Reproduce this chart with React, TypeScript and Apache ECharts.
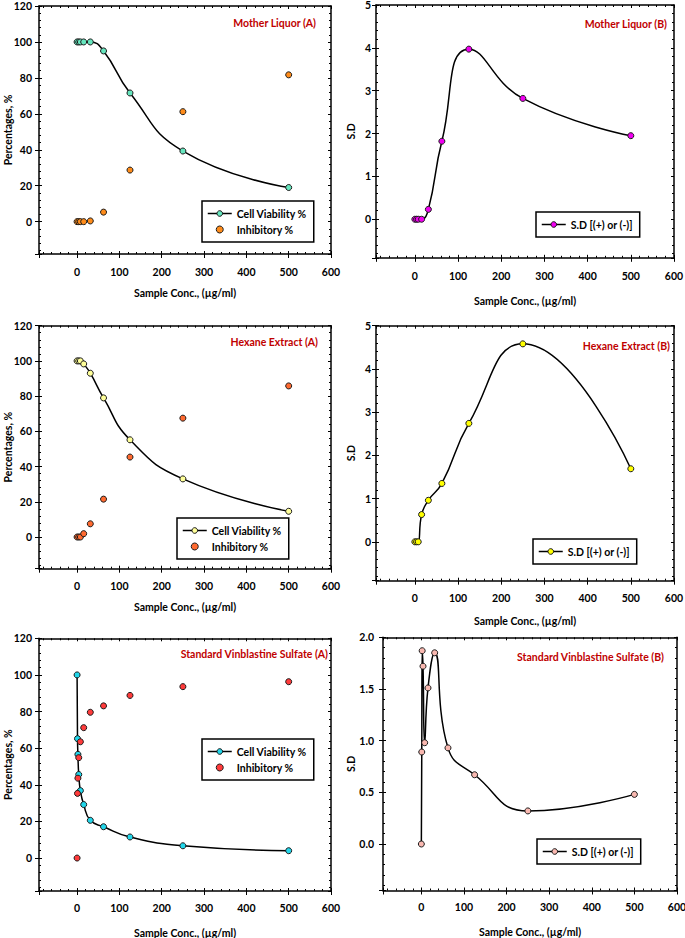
import React, { useEffect, useRef } from "react";
import * as echarts from "echarts";

// ---- Data (concentrations in µg/ml) ----
const mlConc = [0, 3.9, 7.8, 15.6, 31.25, 62.5, 125, 250, 500];
const mlViability = [100, 100, 100, 100, 100, 95, 71.6, 39.3, 19];
const mlInhibitory = [0, 0, 0, 0, 0.4, 5.3, 28.7, 61.2, 81.7];
const mlSD = [0, 0, 0, 0, 0.23, 1.82, 3.97, 2.82, 1.95];

const hxConc = [0, 3.9, 7.8, 15.6, 31.25, 62.5, 125, 250, 500];
const hxViability = [100, 100, 100, 98.3, 93, 79, 55.2, 33, 14.6];
const hxInhibitory = [0, 0, 0, 1.9, 7.5, 21.5, 45.4, 67.5, 85.8];
const hxSD = [0, 0, 0, 0.63, 0.96, 1.35, 2.74, 4.58, 1.69];

const vbConc = [0, 0.98, 1.95, 3.9, 7.8, 15.6, 31.25, 62.5, 125, 250, 500];
const vbViability = [100, 65.2, 56.6, 45.6, 36.8, 29.2, 20.6, 17.1, 11.5, 6.7, 4.0];
const vbInhibitory = [0, 35.3, 43.6, 54.8, 63.5, 71.2, 79.6, 83.1, 88.8, 93.6, 96.3];
const vbSD = [0, 0.89, 1.87, 1.72, 0.98, 1.51, 1.85, 0.93, 0.67, 0.32, 0.48];

// ---- Tick labels ----
const xTickLabels = [0, 100, 200, 300, 400, 500, 600];
const pctTickLabels = [0, 20, 40, 60, 80, 100, 120];
const sdTickLabels = [0, 1, 2, 3, 4, 5];
const sdVbTickLabels = [0, 0.5, 1, 1.5, 2];

const X_NAME = "Sample Conc., (µg/ml)";
const FONT = "Lato, 'Liberation Sans', sans-serif";
const FS = 10.5;
const TITLE_RED = "#c00000";
const EDGE = "#1a1a1a";

const pairs = (xs: number[], ys: number[]) => xs.map((x, i) => [x, ys[i]]);
const hasTick = (list: number[], v: number) => list.some((t) => Math.abs(t - v) < 1e-6);

export default function App() {
  const ref = useRef<HTMLDivElement>(null);

  useEffect(() => {
    if (!ref.current) return;
    const chart = echarts.init(ref.current, undefined, { renderer: "svg" });

    const panels = [
      {
        grid: { left: 39, top: 6, width: 292, height: 248 },
        yMin: -18, yMax: 120, yStep: 20, yTicks: pctTickLabels, yDec: 0,
        yName: "Percentages, %", yNameGap: 26, yLabelMargin: 7,
        xLabelMargin: 12, xNameGap: 33,
        title: "Mother Liquor (A)", titleX: 316, titleY: 23,
        legendLeft: 202, legendTop: 201,
        lines: [{ name: "Cell Viability %", xs: mlConc, ys: mlViability, fill: "#66e6be" }],
        dots: [{ name: "Inhibitory %", xs: mlConc, ys: mlInhibitory, fill: "#ff8c1a" }],
      },
      {
        grid: { left: 376, top: 5, width: 298, height: 252.8 },
        yMin: -0.9, yMax: 5, yStep: 1, yTicks: sdTickLabels, yDec: 0,
        yName: "S.D", yNameGap: 20, yLabelMargin: 5,
        xLabelMargin: 13, xNameGap: 38,
        title: "Mother Liquor (B)", titleX: 667, titleY: 24,
        legendLeft: 536, legendTop: 212,
        lines: [{ name: "S.D [(+) or (-)]", xs: mlConc, ys: mlSD, fill: "#f000f0" }],
        dots: [],
      },
      {
        grid: { left: 39, top: 325.7, width: 292, height: 243 },
        yMin: -18, yMax: 120, yStep: 20, yTicks: pctTickLabels, yDec: 0,
        yName: "Percentages, %", yNameGap: 26, yLabelMargin: 7,
        xLabelMargin: 12, xNameGap: 33,
        title: "Hexane Extract (A)", titleX: 318, titleY: 342,
        legendLeft: 177, legendTop: 518,
        lines: [{ name: "Cell Viability %", xs: hxConc, ys: hxViability, fill: "#ffff99" }],
        dots: [{ name: "Inhibitory %", xs: hxConc, ys: hxInhibitory, fill: "#ff6a30" }],
      },
      {
        grid: { left: 376, top: 325.7, width: 298, height: 255 },
        yMin: -0.9, yMax: 5, yStep: 1, yTicks: sdTickLabels, yDec: 0,
        yName: "S.D", yNameGap: 20, yLabelMargin: 5,
        xLabelMargin: 12, xNameGap: 35,
        title: "Hexane Extract (B)", titleX: 670, titleY: 346,
        legendLeft: 533, legendTop: 539,
        lines: [{ name: "S.D [(+) or (-)]", xs: hxConc, ys: hxSD, fill: "#ffff00" }],
        dots: [],
      },
      {
        grid: { left: 39, top: 638.3, width: 292, height: 252.7 },
        yMin: -18, yMax: 120, yStep: 20, yTicks: pctTickLabels, yDec: 0,
        yName: "Percentages, %", yNameGap: 26, yLabelMargin: 7,
        xLabelMargin: 11, xNameGap: 36,
        title: "Standard Vinblastine Sulfate (A)", titleX: 328, titleY: 654,
        legendLeft: 202, legendTop: 739,
        lines: [{ name: "Cell Viability %", xs: vbConc, ys: vbViability, fill: "#22d6ea" }],
        dots: [{ name: "Inhibitory %", xs: vbConc, ys: vbInhibitory, fill: "#ff3b3b" }],
      },
      {
        grid: { left: 383, top: 637.3, width: 294, height: 253.2 },
        yMin: -0.45, yMax: 2, yStep: 0.5, yTicks: sdVbTickLabels, yDec: 1,
        yName: "S.D", yNameGap: 27, yLabelMargin: 9,
        xLabelMargin: 11, xNameGap: 36,
        title: "Standard Vinblastine Sulfate (B)", titleX: 664, titleY: 657,
        legendLeft: 537, legendTop: 839,
        lines: [{ name: "S.D [(+) or (-)]", xs: vbConc, ys: vbSD, fill: "#f9b8b0" }],
        dots: [],
      },
    ];

    const labelFont = { color: "#000", fontFamily: FONT, fontWeight: "bold" as const, fontSize: FS };
    const tickLine = { color: "#000", width: 1 };
    const frameLine = { color: "#000", width: 1.5 };

    const grids: any[] = [];
    const xAxes: any[] = [];
    const yAxes: any[] = [];
    const series: any[] = [];
    const legends: any[] = [];
    const graphics: any[] = [];

    panels.forEach((p, i) => {
      grids.push({ ...p.grid, containLabel: false, outerBoundsMode: "none", show: false });
      const xCommon = {
        type: "value", gridIndex: i, min: -90, max: 600, minInterval: 100, maxInterval: 100,
        splitLine: { show: false }, silent: true,
      };
      const yCommon = {
        type: "value", gridIndex: i, min: p.yMin, max: p.yMax, minInterval: p.yStep, maxInterval: p.yStep,
        splitLine: { show: false }, silent: true,
      };
      // bottom main
      xAxes.push({
        ...xCommon, position: "bottom",
        axisLine: { show: true, onZero: false, lineStyle: frameLine },
        axisTick: { show: true, inside: false, length: 4, lineStyle: tickLine },
        minorTick: { show: false },
        axisLabel: {
          show: true, margin: p.xLabelMargin, ...labelFont,
          formatter: (v: number) => (hasTick(xTickLabels, v) ? String(Math.round(v)) : ""),
        },
        name: X_NAME, nameLocation: "middle", nameGap: p.xNameGap, nameMoveOverlap: false,
        nameTextStyle: { ...labelFont },
      });
      // bottom inner ticks
      xAxes.push({
        ...xCommon, position: "bottom",
        axisLine: { show: false, onZero: false },
        axisTick: { show: true, inside: true, length: 3, lineStyle: tickLine },
        minorTick: { show: true, splitNumber: 5, length: 2, lineStyle: tickLine },
        axisLabel: { show: false },
      });
      // top frame
      xAxes.push({
        ...xCommon, position: "top",
        axisLine: { show: true, onZero: false, lineStyle: frameLine },
        axisTick: { show: true, inside: true, length: 3, lineStyle: tickLine },
        minorTick: { show: true, splitNumber: 5, length: 2, lineStyle: tickLine },
        axisLabel: { show: false },
      });
      // left main
      yAxes.push({
        ...yCommon, position: "left",
        axisLine: { show: true, onZero: false, lineStyle: frameLine },
        axisTick: { show: true, inside: false, length: 4, lineStyle: tickLine },
        minorTick: { show: false },
        axisLabel: {
          show: true, margin: p.yLabelMargin, ...labelFont, lineHeight: 10,
          formatter: (v: number) => (hasTick(p.yTicks, v) ? v.toFixed(p.yDec) : ""),
        },
        name: p.yName, nameLocation: "middle", nameGap: p.yNameGap, nameMoveOverlap: false,
        nameTextStyle: { ...labelFont, lineHeight: 11 },
      });
      // left inner
      yAxes.push({
        ...yCommon, position: "left",
        axisLine: { show: false, onZero: false },
        axisTick: { show: true, inside: true, length: 3, lineStyle: tickLine },
        minorTick: { show: true, splitNumber: 5, length: 2, lineStyle: tickLine },
        axisLabel: { show: false },
      });
      // right frame
      yAxes.push({
        ...yCommon, position: "right",
        axisLine: { show: true, onZero: false, lineStyle: frameLine },
        axisTick: { show: true, inside: true, length: 3, lineStyle: tickLine },
        minorTick: { show: true, splitNumber: 5, length: 2, lineStyle: tickLine },
        axisLabel: { show: false },
      });

      const suffix = " ".repeat(i);
      const names: string[] = [];
      p.lines.forEach((l) => {
        const name = l.name + suffix;
        names.push(name);
        series.push({
          type: "line", name, xAxisIndex: 3 * i, yAxisIndex: 3 * i,
          data: pairs(l.xs, l.ys), smooth: true, symbol: "circle", symbolSize: 6,
          lineStyle: { color: "#000", width: 1.5 },
          itemStyle: { color: l.fill, borderColor: EDGE, borderWidth: 1 },
          emphasis: { disabled: true }, z: 3,
        });
      });
      p.dots.forEach((d) => {
        const name = d.name + suffix;
        names.push(name);
        series.push({
          type: "scatter", name, xAxisIndex: 3 * i, yAxisIndex: 3 * i,
          data: pairs(d.xs, d.ys), symbol: "circle", symbolSize: 6,
          itemStyle: { color: d.fill, borderColor: EDGE, borderWidth: 1, opacity: 1 },
          emphasis: { disabled: true }, z: 4,
        });
      });

      legends.push({
        left: p.legendLeft, top: p.legendTop, orient: "vertical",
        data: names, selectedMode: false,
        backgroundColor: "#fff", borderColor: "#000", borderWidth: 1.5, borderRadius: 0,
        padding: [7, 7, 7, 5], itemGap: 5, itemWidth: 24, itemHeight: 7,
        textStyle: { ...labelFont },
        formatter: (n: string) => n.trim(),
        itemStyle: { borderWidth: 1, borderColor: EDGE },
        lineStyle: { width: 1.5, color: "#000" },
      });

      graphics.push({
        type: "text", x: p.titleX, y: p.titleY, silent: true,
        style: {
          text: p.title, fill: TITLE_RED, align: "right", verticalAlign: "middle",
          font: `bold ${FS}px ${FONT}`,
        },
      });
    });

    chart.setOption({
      animation: false,
      backgroundColor: "#fff",
      grid: grids,
      xAxis: xAxes,
      yAxis: yAxes,
      series,
      legend: legends,
      graphic: graphics,
    });

    return () => chart.dispose();
  }, []);

  return (
    <div
      ref={ref}
      style={{ position: "fixed", left: 0, top: 0, width: 685, height: 938, background: "#fff" }}
    />
  );
}
